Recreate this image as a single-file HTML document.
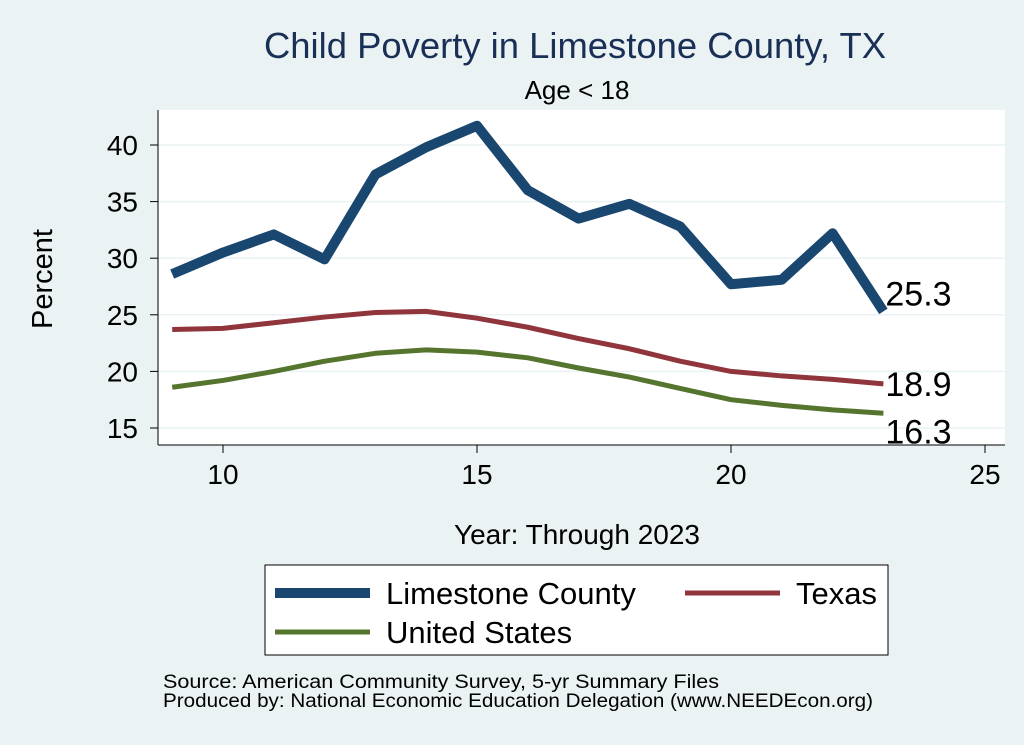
<!DOCTYPE html>
<html><head><meta charset="utf-8"><style>
body{margin:0;background:#eaf2f3;}
svg{display:block;font-family:"Liberation Sans",Arial,sans-serif;}
</style></head><body>
<svg id="c" width="1024" height="745" viewBox="0 0 1024 745">
<rect x="0" y="0" width="1024" height="745" fill="#eaf2f3"/>
<text x="575" y="58" text-anchor="middle" font-size="36" textLength="622" lengthAdjust="spacingAndGlyphs" fill="#1a2f56">Child Poverty in Limestone County, TX</text>
<text x="577" y="99" text-anchor="middle" font-size="26" fill="#000">Age &lt; 18</text>
<rect x="158" y="110" width="847" height="335" fill="#fff"/>
<g id="grid"></g>
<g id="axes"></g>
<g id="series"></g>
<text x="52" y="279" text-anchor="middle" font-size="29" transform="rotate(-90 52 279)">Percent</text>
<text x="577" y="544" text-anchor="middle" font-size="28">Year: Through 2023</text>
<g>
<rect x="265" y="565" width="623" height="90" fill="#fff" stroke="#000" stroke-width="1"/>
<line x1="275" y1="593" x2="370" y2="593" stroke="#1a476f" stroke-width="10"/>
<text x="386" y="604" font-size="31">Limestone County</text>
<line x1="685" y1="593" x2="780" y2="593" stroke="#90353b" stroke-width="5"/>
<text x="796" y="604" font-size="31">Texas</text>
<line x1="275" y1="632" x2="370" y2="632" stroke="#55752f" stroke-width="5"/>
<text x="386" y="643" font-size="31">United States</text>
</g>
<text x="163" y="688" font-size="19" textLength="556" lengthAdjust="spacingAndGlyphs">Source: American Community Survey, 5-yr Summary Files</text>
<text x="163" y="707" font-size="19" textLength="710" lengthAdjust="spacingAndGlyphs">Produced by: National Economic Education Delegation (www.NEEDEcon.org)</text>
</svg>
<script>
const years=[9,10,11,12,13,14,15,16,17,18,19,20,21,22,23];
const limestone=[28.6,30.5,32.1,29.9,37.4,39.8,41.7,36.0,33.5,34.8,32.8,27.7,28.1,32.2,25.3];
const texas=[23.7,23.8,24.3,24.8,25.2,25.3,24.7,23.9,22.9,22.0,20.9,20.0,19.6,19.3,18.9];
const us=[18.6,19.2,20.0,20.9,21.6,21.9,21.7,21.2,20.3,19.5,18.5,17.5,17.0,16.6,16.3];
const xTicks=[10,15,20,25];
const yTicks=[15,20,25,30,35,40];
const NS="http://www.w3.org/2000/svg";
const X=v=>223+(v-10)*50.8;
const Y=v=>428-(v-15)*11.32;
function mk(tag,attrs,parent,text){const e=document.createElementNS(NS,tag);for(const k in attrs)e.setAttribute(k,attrs[k]);if(text!==undefined)e.textContent=text;document.getElementById(parent).appendChild(e);return e;}
yTicks.forEach(t=>{
  let g=mk('line',{x1:158,x2:1005,y1:Y(t),y2:Y(t),stroke:'#eaf2f3','stroke-width':1.5},'grid');
  
  
  let tk=mk('line',{x1:150,x2:158,y1:Y(t),y2:Y(t),stroke:'#000','stroke-width':1},'axes');
  
  
  let l=mk('text',{x:138,y:Y(t)+10,'text-anchor':'end','font-size':28},'axes',t);
  
  
});
xTicks.forEach(t=>{
  let tk=mk('line',{x1:X(t),x2:X(t),y1:445,y2:453,stroke:'#000','stroke-width':1},'axes');
  
  
  let l=mk('text',{x:X(t),y:484,'text-anchor':'middle','font-size':28},'axes',t);
  
  
});
let ya=mk('line',{x1:158,x2:158,y1:110,y2:445,stroke:'#000','stroke-width':1},'axes');


let xa=mk('line',{x1:158,x2:1005,y1:445,y2:445,stroke:'#000','stroke-width':1},'axes');


function draw(vals,color,w,name,dy){
  const d=vals.map((v,i)=>(i?'L':'M')+X(years[i])+' '+Y(v)).join(' ');
  let p=mk('path',{d:d,fill:'none',stroke:color,'stroke-width':w,'stroke-linejoin':'round'},'series');
  
  
  const last=vals[vals.length-1];
  let t=mk('text',{x:X(years[years.length-1])+2,y:Y(last)+dy,'font-size':34},'series',last.toFixed(1));
  
  
}
draw(us,'#55752f',5,'us',30);
draw(texas,'#90353b',5,'texas',12);
draw(limestone,'#1a476f',10,'limestone',-6);
</script>
</body></html>
